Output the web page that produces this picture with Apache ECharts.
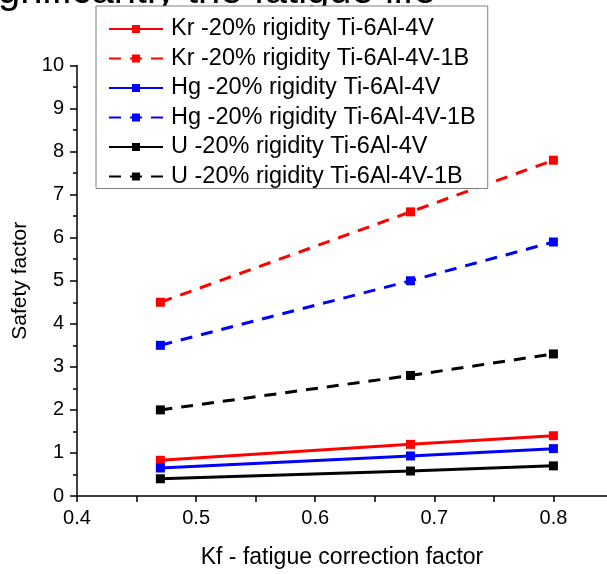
<!DOCTYPE html>
<html>
<head>
<meta charset="utf-8">
<script src="https://cdn.jsdelivr.net/npm/echarts@6/dist/echarts.min.js"></script>
<style>html,body{margin:0;padding:0;background:#fff}#c{width:607px;height:574px}</style>
</head>
<body>
<div id="c"></div>
<script>
const kfValues = [0.47, 0.68, 0.8];
const seriesNames = [
  'Kr -20% rigidity Ti-6Al-4V',
  'Kr -20% rigidity Ti-6Al-4V-1B',
  'Hg -20% rigidity Ti-6Al-4V',
  'Hg -20% rigidity Ti-6Al-4V-1B',
  'U -20% rigidity Ti-6Al-4V',
  'U -20% rigidity Ti-6Al-4V-1B'
];
const krSolid = [0.83, 1.2, 1.4];
const krDashed = [4.5, 6.6, 7.8];
const hgSolid = [0.65, 0.93, 1.1];
const hgDashed = [3.5, 5.0, 5.9];
const uSolid = [0.4, 0.58, 0.7];
const uDashed = [2.0, 2.8, 3.3];
const xTickValues = [0.4, 0.45, 0.5, 0.55, 0.6, 0.65, 0.7, 0.75, 0.8];
const xLabelValues = [0.4, 0.5, 0.6, 0.7, 0.8];
const captionText = 'gnificantly the fatigue life';

const seriesValues = [krSolid, krDashed, hgSolid, hgDashed, uSolid, uDashed];
const colors = ['#ff0000', '#ff0000', '#0000ff', '#0000ff', '#000000', '#000000'];
const dashed = [false, true, false, true, false, true];

const font = 'Arial, "Liberation Sans", sans-serif';
const chart = echarts.init(document.getElementById('c'), null, {renderer: 'canvas'});
chart.setOption({
  animation: false,
  backgroundColor: '#ffffff',
  graphic: [{
    type: 'text', left: -2, top: -28,
    style: {text: captionText, font: '40px ' + font, fill: '#000'}
  }],
  grid: {left: 77, right: 0, top: 65.5, bottom: 72.5, containLabel: false},
  legend: {
    orient: 'vertical', left: 96, top: 6,
    width: 389,
    padding: [11, 12, 0, 12],
    borderColor: '#808080', borderWidth: 1,
    backgroundColor: '#fff',
    itemWidth: 54, itemHeight: 10, itemGap: 5.5,
    textStyle: {fontFamily: font, fontSize: 23.5, color: '#000', padding: [0,0,0,3]},
    data: seriesNames
  },
  xAxis: {
    type: 'value', min: 0.4, max: 0.845,
    name: 'Kf - fatigue correction factor', nameLocation: 'middle', nameGap: 50,
    nameTextStyle: {fontFamily: font, fontSize: 23, color: '#000'},
    axisLine: {show: true, onZero: false, lineStyle: {color: '#000', width: 1.5}},
    axisTick: {show: true, inside: false, length: 6, customValues: xTickValues, lineStyle: {color: '#000', width: 1.5}},
    axisLabel: {customValues: xLabelValues, fontFamily: font, fontSize: 20, color: '#000', margin: 12,
      formatter: v => v.toFixed(1)},
    splitLine: {show: false}
  },
  yAxis: {
    type: 'value', min: 0, max: 10, interval: 1,
    name: 'Safety factor', nameLocation: 'middle', nameGap: 45,
    nameTextStyle: {fontFamily: font, fontSize: 21, color: '#000'},
    axisLine: {show: true, lineStyle: {color: '#000', width: 1.5}},
    axisTick: {show: true, inside: false, length: 7, lineStyle: {color: '#000', width: 1.5}},
    minorTick: {show: true, splitNumber: 2, length: 4, lineStyle: {color: '#000', width: 1.5}},
    axisLabel: {fontFamily: font, fontSize: 20, color: '#000', margin: 13},
    splitLine: {show: false}
  },
  series: seriesNames.map((name, i) => ({
    name: name,
    type: 'line',
    data: kfValues.map((x, j) => [x, seriesValues[i][j]]),
    symbol: 'rect', symbolSize: 9,
    color: colors[i],
    itemStyle: {color: colors[i]},
    lineStyle: {color: colors[i], width: 3, type: dashed[i] ? [12, 9] : 'solid'},
    z: 2
  }))
});
</script>
</body>
</html>
